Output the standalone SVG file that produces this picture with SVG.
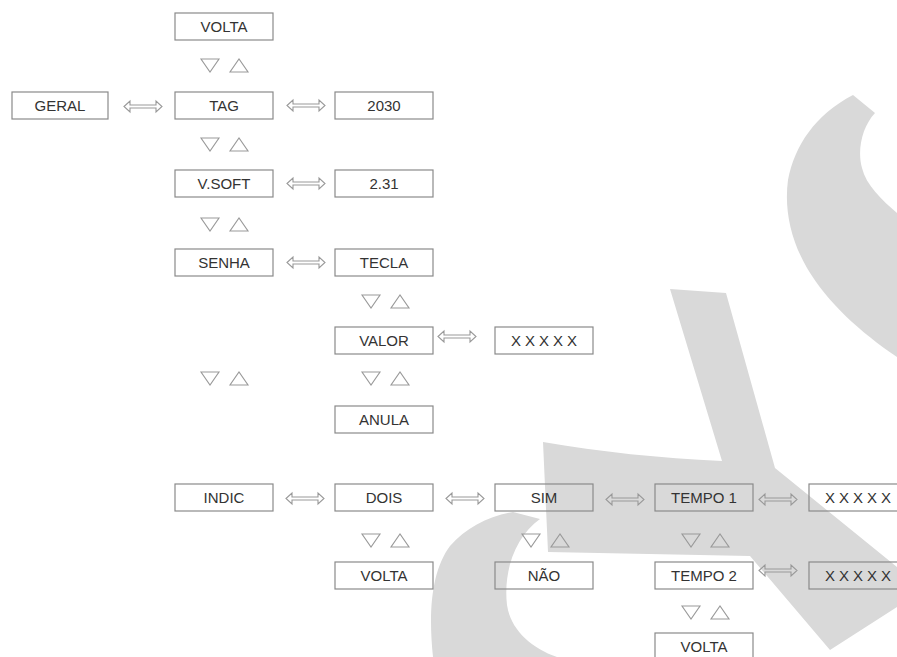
<svg xmlns="http://www.w3.org/2000/svg" xmlns:xlink="http://www.w3.org/1999/xlink" width="897" height="657" viewBox="0 0 897 657">
<style>
.bg{fill:#ffffff}
.wm{fill:#d9d9d9}
.box{fill:none;stroke:#8a8a8a;stroke-width:1.2}
.lbl{font-family:"Liberation Sans",Arial,sans-serif;font-size:15px;fill:#333333;text-anchor:middle}
.xs{letter-spacing:4px}
.con{fill:none;stroke:#999999;stroke-width:1.1;stroke-linejoin:miter}
</style>
<defs>
<path id="dbl" d="M0,5.5 L6,0 L6,4 L32,4 L32,0 L38,5.5 L32,11 L32,7 L6,7 L6,11 Z"/>
<path id="dn" d="M0,0 L18,0 L9,13 Z"/>
<path id="up" d="M0,13 L18,13 L9,0 Z"/>
</defs>
<rect class="bg" x="0" y="0" width="897" height="657"/>
<g id="watermark">
<path class="wm" d="M853,95 L875,113 C862,127 857,150 862,168 C866,185 882,200 897,213 L897,357 C860,332 827,302 807,268 C791,240 784,210 788,180 C795,145 815,115 853,95 Z"/>
<path class="wm" d="M670,289 L726,293 L775,468 L897,567 L897,607 L830,650 L750,556 L548,552 L543,442 C600,452 660,458 722,461 Z"/>
<path class="wm" d="M513,512 L540,519 C516,536 503,570 507,605 C510,628 530,648 557,657 L433,657 C428,610 432,570 450,546 C466,528 488,516 513,512 Z"/>
</g>
<g id="connectors">
<use href="#dbl" class="con" x="124" y="101"/>
<use href="#dbl" class="con" x="287" y="100"/>
<use href="#dbl" class="con" x="287" y="178"/>
<use href="#dbl" class="con" x="287" y="257"/>
<use href="#dbl" class="con" x="438" y="331"/>
<use href="#dbl" class="con" x="286" y="493"/>
<use href="#dbl" class="con" x="446" y="493"/>
<use href="#dbl" class="con" x="606" y="494"/>
<use href="#dbl" class="con" x="759" y="494"/>
<use href="#dbl" class="con" x="759" y="565"/>
<use href="#dn" class="con" x="201" y="59"/><use href="#up" class="con" x="230" y="59"/>
<use href="#dn" class="con" x="201" y="138"/><use href="#up" class="con" x="230" y="138"/>
<use href="#dn" class="con" x="201" y="218"/><use href="#up" class="con" x="230" y="218"/>
<use href="#dn" class="con" x="362" y="295"/><use href="#up" class="con" x="391" y="295"/>
<use href="#dn" class="con" x="201" y="372"/><use href="#up" class="con" x="230" y="372"/>
<use href="#dn" class="con" x="362" y="372"/><use href="#up" class="con" x="391" y="372"/>
<use href="#dn" class="con" x="362" y="534"/><use href="#up" class="con" x="391" y="534"/>
<use href="#dn" class="con" x="522" y="534"/><use href="#up" class="con" x="551" y="534"/>
<use href="#dn" class="con" x="682" y="534"/><use href="#up" class="con" x="711" y="534"/>
<use href="#dn" class="con" x="682" y="606"/><use href="#up" class="con" x="711" y="606"/>
</g>
<g id="n-volta-top"><rect class="box" x="175" y="13" width="98" height="27"/><text class="lbl" x="224" y="32">VOLTA</text></g>
<g id="n-geral"><rect class="box" x="12" y="92" width="96" height="27"/><text class="lbl" x="60" y="111">GERAL</text></g>
<g id="n-tag"><rect class="box" x="175" y="92" width="98" height="27"/><text class="lbl" x="224" y="111">TAG</text></g>
<g id="n-2030"><rect class="box" x="335" y="92" width="98" height="27"/><text class="lbl" x="384" y="111">2030</text></g>
<g id="n-vsoft"><rect class="box" x="175" y="170" width="98" height="27"/><text class="lbl" x="224" y="189">V.SOFT</text></g>
<g id="n-231"><rect class="box" x="335" y="170" width="98" height="27"/><text class="lbl" x="384" y="189">2.31</text></g>
<g id="n-senha"><rect class="box" x="175" y="249" width="98" height="27"/><text class="lbl" x="224" y="268">SENHA</text></g>
<g id="n-tecla"><rect class="box" x="335" y="249" width="98" height="27"/><text class="lbl" x="384" y="268">TECLA</text></g>
<g id="n-valor"><rect class="box" x="335" y="327" width="98" height="27"/><text class="lbl" x="384" y="346">VALOR</text></g>
<g id="n-xxxxx1"><rect class="box" x="495" y="327" width="98" height="27"/><text class="lbl xs" x="546" y="346">XXXXX</text></g>
<g id="n-anula"><rect class="box" x="335" y="406" width="98" height="27"/><text class="lbl" x="384" y="425">ANULA</text></g>
<g id="n-indic"><rect class="box" x="175" y="484" width="98" height="27"/><text class="lbl" x="224" y="503">INDIC</text></g>
<g id="n-dois"><rect class="box" x="335" y="484" width="98" height="27"/><text class="lbl" x="384" y="503">DOIS</text></g>
<g id="n-sim"><rect class="box" x="495" y="484" width="98" height="27"/><text class="lbl" x="544" y="503">SIM</text></g>
<g id="n-tempo1"><rect class="box" x="655" y="484" width="98" height="27"/><text class="lbl" x="704" y="503">TEMPO 1</text></g>
<g id="n-xxxxx2"><rect class="box" x="809" y="484" width="98" height="27"/><text class="lbl xs" x="860" y="503">XXXXX</text></g>
<g id="n-volta2"><rect class="box" x="335" y="562" width="98" height="27"/><text class="lbl" x="384" y="581">VOLTA</text></g>
<g id="n-nao"><rect class="box" x="495" y="562" width="98" height="27"/><text class="lbl" x="544" y="581">NÃO</text></g>
<g id="n-tempo2"><rect class="box" x="655" y="562" width="98" height="27"/><text class="lbl" x="704" y="581">TEMPO 2</text></g>
<g id="n-xxxxx3"><rect class="box" x="809" y="562" width="98" height="27"/><text class="lbl xs" x="860" y="581">XXXXX</text></g>
<g id="n-volta3"><rect class="box" x="655" y="633" width="98" height="27"/><text class="lbl" x="704" y="652">VOLTA</text></g>
</svg>
